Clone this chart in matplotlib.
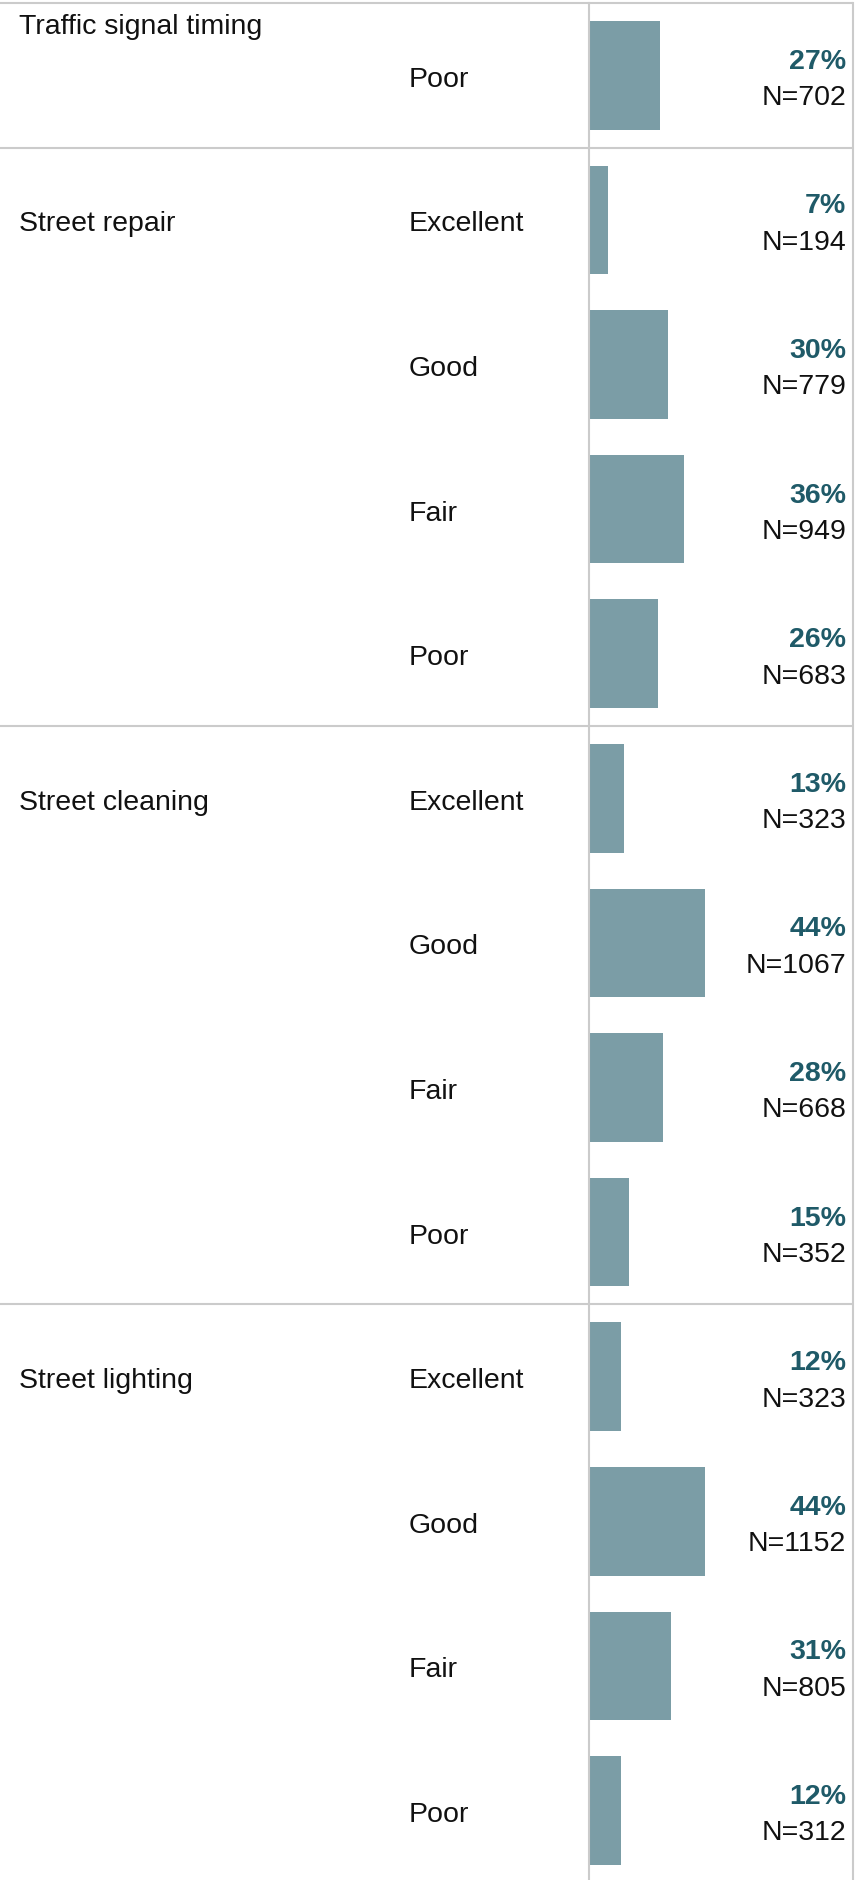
import matplotlib
matplotlib.use("Agg")
import matplotlib.pyplot as plt
from matplotlib.transforms import blended_transform_factory

plt.rcParams['font.family'] = ['Liberation Sans', 'DejaVu Sans']

# data
groups = ["Traffic signal timing", "Street repair", "Street cleaning", "Street lighting"]
ratings = [["Poor"],
           ["Excellent", "Good", "Fair", "Poor"],
           ["Excellent", "Good", "Fair", "Poor"],
           ["Excellent", "Good", "Fair", "Poor"]]
pcts = [[27], [7, 30, 36, 26], [13, 44, 28, 15], [12, 44, 31, 12]]
counts = [[702], [194, 779, 949, 683], [323, 1067, 668, 352], [323, 1152, 805, 312]]

W, H = 864, 1881
bar_col = '#7b9da6'
pct_col = '#1f5a68'
line_col = '#cbcbcb'
txt_col = '#111111'
fs = 20.5

fig = plt.figure(figsize=(W / 100, H / 100), dpi=100)
ax = fig.add_axes([589 / W, 0, (853 - 589) / W, 1877 / H])
row_px = 144.6
ax.set_ylim(-0.5 + 1877 / row_px, -0.5)
ax.set_xlim(0, 101)
ax.set_xticks([])
ax.set_yticks([])
for s in ['top', 'bottom']:
    ax.spines[s].set_visible(False)
for s in ['left', 'right']:
    ax.spines[s].set_color(line_col)
    ax.spines[s].set_linewidth(1.5)

tr = blended_transform_factory(fig.transFigure, ax.transData)

row = 0
for g, name in enumerate(groups):
    first = row
    for r, lab in enumerate(ratings[g]):
        v = pcts[g][r]
        n = counts[g][r]
        ax.barh(row, v, height=0.75, color=bar_col, left=0.3)
        fig.text(409 / W, row + 0.073, lab, transform=tr, fontsize=fs,
                 color=txt_col, va='baseline', ha='left')
        fig.text(846 / W, row - 0.052, f"{v}%", transform=tr,
                 fontsize=fs, color=pct_col, fontweight='bold', va='baseline', ha='right')
        fig.text(846 / W, row + 0.2, f"N={n}", transform=tr, fontsize=fs,
                 color=txt_col, va='baseline', ha='right')
        row += 1
    # group label; the first group is cut off at the top, so its label sits at the top
    if len(ratings[g]) == 1:
        ly = first - 0.29
    else:
        ly = first + 0.073
    fig.text(19 / W, ly, name, transform=tr, fontsize=fs, color=txt_col,
             va='baseline', ha='left')
    # separator line above the group
    ax.plot([0, 853 / W], [first - 0.5, first - 0.5], transform=tr, color=line_col,
            lw=1.5, clip_on=False, solid_capstyle='butt')

fig.savefig('out.png', dpi=100)
